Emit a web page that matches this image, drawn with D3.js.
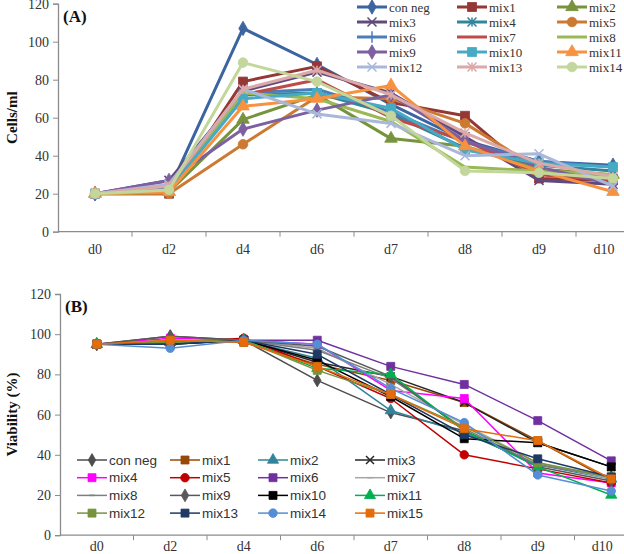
<!DOCTYPE html>
<html>
<head>
<meta charset="utf-8">
<script src="https://cdn.jsdelivr.net/npm/d3@7"></script>
<style>
  body { margin: 0; background: #fff; }
  svg { display: block; }
</style>
</head>
<body>
<div id="chart"></div>
<script>
// ── Data ─────────────────────────────────────
const days = ["d0","d2","d4","d6","d7","d8","d9","d10"];
const yTicks = [0, 20, 40, 60, 80, 100, 120];

// Panel A — cells/ml
const cellsNames = ["con neg","mix1","mix2","mix3","mix4","mix5","mix6","mix7",
                    "mix8","mix9","mix10","mix11","mix12","mix13","mix14"];
const cellsValues = [
  [20, 22, 107, 88, 67, 48, 37, 35],
  [20, 20, 79, 87, 68, 61, 28, 27],
  [20, 21, 59, 72, 49, 45, 33, 30],
  [20, 27, 74, 84, 73, 50, 27, 25],
  [20, 22, 72, 73, 62, 44, 35, 32],
  [20, 20, 46, 71, 70, 57, 33, 28],
  [20, 23, 73, 75, 63, 47, 37, 34],
  [20, 22, 72, 80, 60, 48, 30, 27],
  [20, 21, 73, 70, 58, 34, 32, 30],
  [20, 27, 54, 64, 72, 48, 34, 25],
  [20, 22, 70, 73, 65, 43, 36, 34],
  [20, 21, 66, 70, 77, 45, 32, 21],
  [20, 25, 75, 62, 57, 40, 41, 24],
  [20, 24, 75, 85, 72, 52, 36, 29],
  [20, 22, 89, 79, 61, 32, 31, 28]
];
const cellsColors = ["#3B64A0","#953735","#77933C","#604A7B","#31859C","#CC7A33",
                     "#4A7EBB","#BE4B48","#98B954","#7D60A0","#46AAC5","#F69240",
                     "#A9B8DA","#DBA9A8","#C3D69B"];
const cellsMarkers = ["diamond","square","triangle","x","asterisk","circle","plus","none",
                      "none","diamond","square","triangle","x","asterisk","circle"];

// Panel B — viability (%)
const viaNames = ["con neg","mix1","mix2","mix3","mix4","mix5","mix6","mix7",
                  "mix8","mix9","mix10","mix11","mix12","mix13","mix14","mix15"];
const viaValues = [
  [95, 99, 97, 77, 61, 52, 35, 29],
  [95, 97, 96, 85, 77, 66, 47, 27],
  [95, 96, 97, 88, 62, 51, 35, 28],
  [95, 95, 97, 86, 79, 66, 46, 34],
  [95, 98, 97, 95, 72, 68, 31, 26],
  [95, 96, 98, 84, 68, 40, 33, 26],
  [95, 96, 97, 97, 84, 75, 57, 37],
  [95, 97, 97, 93, 75, 55, 36, 28],
  [95, 96, 97, 92, 78, 53, 35, 29],
  [95, 99, 97, 94, 79, 52, 34, 27],
  [95, 95, 97, 87, 69, 48, 46, 34],
  [95, 96, 97, 83, 80, 52, 34, 20],
  [95, 96, 97, 82, 70, 54, 36, 29],
  [95, 95, 97, 90, 70, 50, 38, 29],
  [95, 93, 97, 95, 73, 56, 30, 22],
  [95, 97, 96, 84, 70, 53, 47, 28]
];
const viaColors = ["#4D4D4D","#984807","#31849B","#262626","#FF00FF","#C00000",
                   "#7030A0","#A6A6A6","#7F7F7F","#595959","#000000","#00B050",
                   "#77933C","#1F3864","#558ED5","#E46C0A"];
const viaMarkers = ["diamond","square","triangle","x","square","circle","square","dash",
                    "dash","diamond","square","triangle","square","square","circle","square"];

// ── Helpers ──────────────────────────────────
const SERIF = "'Liberation Serif','Times New Roman',serif";
const SANS  = "'Liberation Sans',Arial,sans-serif";

function markerPath(type, s) {
  const h = s / 2;
  switch (type) {
    case "diamond":  return d3.symbol(d3.symbolDiamond, s * s * 0.75)();
    case "square":   return d3.symbol(d3.symbolSquare, s * s)();
    case "triangle": return d3.symbol(d3.symbolTriangle, s * s * 0.85)();
    case "circle":   return d3.symbol(d3.symbolCircle, s * s * 0.9)();
    case "x":        return `M${-h},${-h}L${h},${h}M${-h},${h}L${h},${-h}`;
    case "asterisk": return `M${-h},${-h}L${h},${h}M${-h},${h}L${h},${-h}M0,${-h}L0,${h}`;
    case "plus":     return `M0,${-h * 1.3}L0,${h * 1.3}M${-h},0L${h},0`;
    case "dash":     return `M${-h * 0.7},0L${h * 0.7},0`;
    default:         return "";
  }
}
const isStroked = t => t === "x" || t === "asterisk" || t === "plus" || t === "dash";

const svg = d3.select("#chart").append("svg")
  .attr("width", 624).attr("height", 554);

function drawPanel(cfg) {
  const x = d3.scaleBand().domain(days).range([cfg.left, cfg.right]).padding(0);
  const y = d3.scaleLinear().domain([0, 120]).range([cfg.bottom, cfg.top]);
  const g = svg.append("g");

  // Y axis
  const yAxis = g.append("g").attr("transform", `translate(${cfg.left},0)`)
    .call(d3.axisLeft(y).tickValues(yTicks).tickSize(5).tickPadding(4));
  yAxis.select(".domain").attr("stroke", "#8c8c8c").attr("stroke-width", 1.3);
  yAxis.selectAll(".tick line").attr("stroke", "#8c8c8c");
  yAxis.selectAll("text").attr("font-family", SERIF).attr("font-size", "14px").attr("fill", "#333");

  // X axis: labels centred, ticks between categories
  const xAxis = g.append("g").attr("transform", `translate(0,${cfg.bottom})`)
    .call(d3.axisBottom(x).tickSize(0).tickPadding(cfg.xPad));
  xAxis.select(".domain").remove();
  xAxis.selectAll("text").attr("font-family", SERIF).attr("font-size", "14px").attr("fill", "#333")
    .attr("dx", d => d === "d10" ? -9 : 0);
  g.append("line").attr("x1", cfg.left).attr("x2", cfg.right)
    .attr("y1", cfg.bottom).attr("y2", cfg.bottom)
    .attr("stroke", "#8c8c8c").attr("stroke-width", 1.3);
  g.selectAll(".xtick").data(days.slice(1)).join("line")
    .attr("x1", d => x(d)).attr("x2", d => x(d))
    .attr("y1", cfg.bottom).attr("y2", cfg.bottom + 5)
    .attr("stroke", "#8c8c8c");

  // Series
  const line = d3.line().x((v, i) => x(days[i]) + x.bandwidth() / 2).y(v => y(v));
  cfg.values.forEach((vals, si) => {
    const col = cfg.colors[si];
    g.append("path").datum(vals).attr("d", line)
      .attr("fill", "none").attr("stroke", col)
      .attr("stroke-width", cfg.lineW).attr("stroke-linejoin", "round");
    const m = cfg.markers[si];
    if (m === "none") return;
    g.selectAll(null).data(vals).join("path")
      .attr("transform", (v, i) => `translate(${x(days[i]) + x.bandwidth() / 2},${y(v)})`)
      .attr("d", markerPath(m, cfg.markSize))
      .attr("fill", isStroked(m) ? "none" : col)
      .attr("stroke", col)
      .attr("stroke-width", isStroked(m) ? 1.5 : 0.8);
  });

  // Panel tag
  g.append("text").attr("x", cfg.left + 5).attr("y", cfg.top + 18)
    .attr("font-family", SERIF).attr("font-weight", "bold").attr("font-size", "17px")
    .attr("fill", "#111").text(cfg.tag);

  // Y title
  g.append("text").attr("transform", `translate(${cfg.titleX},${(cfg.top + cfg.bottom) / 2}) rotate(-90)`)
    .attr("text-anchor", "middle").attr("font-family", SERIF).attr("font-weight", "bold")
    .attr("font-size", "15px").attr("fill", "#111").text(cfg.title);

  // Legend
  const lg = g.append("g");
  cfg.names.forEach((name, i) => {
    const col = i % cfg.legCols, row = Math.floor(i / cfg.legCols);
    const lx = cfg.legX[col], ly = cfg.legY + row * cfg.legDy;
    const c = cfg.colors[i], m = cfg.markers[i];
    lg.append("line").attr("x1", lx).attr("x2", lx + 30).attr("y1", ly).attr("y2", ly)
      .attr("stroke", c).attr("stroke-width", cfg.lineW);
    if (m !== "none") {
      lg.append("path").attr("transform", `translate(${lx + 15},${ly})`)
        .attr("d", markerPath(m, cfg.markSize))
        .attr("fill", isStroked(m) ? "none" : c).attr("stroke", c)
        .attr("stroke-width", isStroked(m) ? 1.5 : 0.8);
    }
    lg.append("text").attr("x", lx + 32).attr("y", ly).attr("dy", "0.35em")
      .attr("font-family", cfg.legFont).attr("font-size", cfg.legSize).attr("fill", "#333")
      .text(name);
  });
}

drawPanel({
  left: 58, right: 650, top: 3.7, bottom: 231.7, xPad: 12,
  values: cellsValues, names: cellsNames, colors: cellsColors, markers: cellsMarkers,
  lineW: 3, markSize: 9, tag: "(A)", title: "Cells/ml", titleX: 17,
  legCols: 3, legX: [357, 457, 557], legY: 7, legDy: 15,
  legFont: SERIF, legSize: "13px"
});

drawPanel({
  left: 60, right: 648, top: 294, bottom: 535.2, xPad: 6,
  values: viaValues, names: viaNames, colors: viaColors, markers: viaMarkers,
  lineW: 1.5, markSize: 8, tag: "(B)", title: "Viability (%)", titleX: 17,
  legCols: 4, legX: [77, 170, 258, 355], legY: 460, legDy: 17.7,
  legFont: SANS, legSize: "13.5px"
});
</script>
</body>
</html>
